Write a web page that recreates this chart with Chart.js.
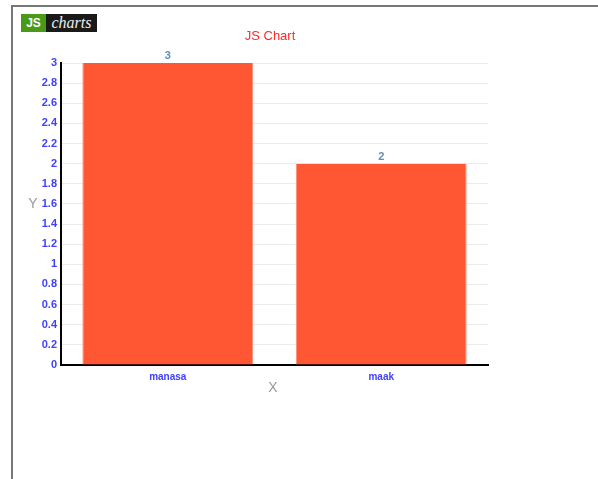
<!DOCTYPE html>
<html>
<head>
<meta charset="utf-8">
<script src="https://cdn.jsdelivr.net/npm/chart.js@4"></script>
<style>
  body { margin: 0; background: #fff; font-family: "Liberation Sans", Arial, sans-serif; }
  #frame { position: absolute; left: 11px; top: 5px; width: 600px; height: 480px;
           border-top: 2px solid #777; border-left: 2px solid #777; }
  #logo { position: absolute; left: 21px; top: 14px; height: 18px; display: flex; }
  #logo .js { background: #4b9a17; color: #fff; font: bold 12px "Liberation Sans", Arial, sans-serif;
              width: 25px; text-align: center; line-height: 18px; }
  #logo .charts { background: #1a1a1a; color: #eee; font: italic 16px "Liberation Serif", "Times New Roman", serif;
                  width: 51px; text-align: center; line-height: 18px; }
  #wrap { position: absolute; left: 0; top: 0; width: 598px; height: 479px; }
</style>
</head>
<body>
<div id="frame"></div>
<div id="wrap"><canvas id="myChart"></canvas></div>
<div id="logo"><span class="js">JS</span><span class="charts">charts</span></div>
<script>
let categories = ['manasa', 'maak'];
let values = [3, 2];
let chartTitle = 'JS Chart';
let xTitle = 'X';
let yTitle = 'Y';

// titles and value labels drawn on top
const overlay = {
    id: 'overlay',
    afterDatasetsDraw(chart) {
        const ctx = chart.ctx;
        ctx.save();
        ctx.textAlign = 'center';
        ctx.textBaseline = 'middle';

        ctx.fillStyle = '#ff2a2a';
        ctx.font = '13px "Liberation Sans", Arial, sans-serif';
        ctx.fillText(chartTitle, 270, 36);

        ctx.fillStyle = '#999';
        ctx.font = '14px "Liberation Sans", Arial, sans-serif';
        ctx.fillText(yTitle, 33, 204);
        ctx.fillText(xTitle, 273, 388);

        ctx.fillStyle = '#5f8fb8';
        ctx.font = 'bold 11px "Liberation Sans", Arial, sans-serif';
        const meta = chart.getDatasetMeta(0);
        meta.data.forEach((bar, i) => {
            ctx.fillText(values[i], bar.x, bar.y - 7);
        });
        ctx.restore();
    }
};

const ctx = document.getElementById('myChart').getContext('2d');
new Chart(ctx, {
    type: 'bar',
    data: {
        labels: categories,
        datasets: [{
            data: values,
            backgroundColor: '#ff5733',
            borderColor: 'rgba(255, 130, 100, 0.9)',
            borderWidth: { left: 1, right: 1, top: 0, bottom: 0 },
            barPercentage: 0.8,
            categoryPercentage: 1
        }]
    },
    options: {
        responsive: true,
        maintainAspectRatio: false,
        animation: false,
        layout: { padding: { left: 20, right: 110, top: 63, bottom: 84 } },
        plugins: {
            legend: { display: false },
            title: { display: false },
            tooltip: { enabled: false }
        },
        scales: {
            x: {
                grid: { display: false, drawTicks: false },
                border: { color: '#000', width: 2 },
                ticks: {
                    color: '#4040ff',
                    font: { size: 10, weight: 'bold', family: '"Liberation Sans", Arial, sans-serif' },
                    padding: 6,
                    maxRotation: 0
                },
                afterFit: s => { s.height = 30; }
            },
            y: {
                min: 0,
                max: 3,
                grid: { color: '#ececec', drawTicks: false },
                border: { color: '#000', width: 2 },
                ticks: {
                    stepSize: 0.2,
                    autoSkip: false,
                    padding: 4,
                    color: '#4040ff',
                    font: { size: 11, weight: 'bold', family: '"Liberation Sans", Arial, sans-serif' },
                    callback: v => String(Number(v.toFixed(1)))
                },
                afterFit: s => { s.width = 41; }
            }
        }
    },
    plugins: [overlay]
});
</script>
</body>
</html>
